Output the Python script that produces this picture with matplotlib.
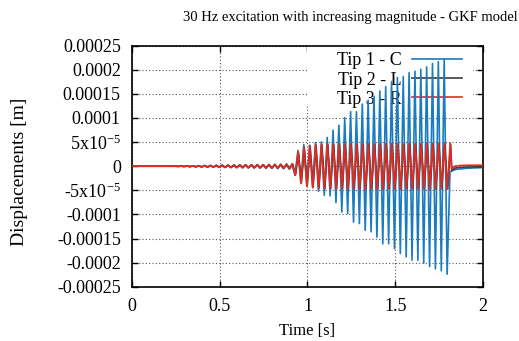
#%% Imports
import numpy as np
import matplotlib
matplotlib.use('Agg')
import matplotlib.pyplot as plt
from matplotlib.patches import Rectangle

#%% Data (peak values of the 30 Hz response)

freq = 30.0                      # excitation frequency, Hz (peaks every 1/60 s)

# small oscillation phase, alternating bottom/top peaks (units of 1e-6 m)
blue_pre_bot = [-0.5, -0.8, -1.1, -1.4, -1.8, -2.1, -2.4, -2.6, -2.8, -3.0,
                -3.2, -3.4, -3.6, -3.8, -4.0, -4.2, -4.5, -4.8, -5.2, -6.0]
blue_pre_top = [0.3, 0.5, 0.8, 1.0, 1.3, 1.5, 1.8, 2.0, 2.1, 2.3,
                2.5, 2.6, 2.8, 3.0, 3.1, 3.3, 3.5, 3.8, 4.0, 4.6]
red_pre_bot = [-0.3, -0.6, -0.9, -1.2, -1.4, -1.7, -1.9, -2.1, -2.3, -2.5,
               -2.7, -2.9, -3.0, -3.2, -3.4, -3.6, -3.8, -4.1, -4.4, -5.0]
red_pre_top = [0.3, 0.5, 0.8, 1.0, 1.3, 1.6, 1.8, 2.0, 2.2, 2.4,
               2.6, 2.7, 2.9, 3.1, 3.2, 3.4, 3.6, 3.9, 4.2, 4.8]

# large oscillation phase (units of 1e-5 m)
blue_bot = [-1.9, -3.46, -3.74, -4.29, -5.19, -6.02, -6.16, -7.55, -9.49, -9.83,
            -11.6, -11.9, -13.3, -13.6, -14.7, -16.1, -16.1, -17.1, -18.1, -18.8,
            -19.5, -19.5, -20.1, -20.8, -21.3, -21.7, -22.4]
blue_top = [3.3, 4.5, 4.36, 4.9, 5.05, 5.96, 7.48, 8.5, 10.1, 11.3,
            11.3, 12.9, 13.7, 14.5, 15.6, 16.5, 17.5, 18.4, 18.6, 19.4,
            19.7, 20.1, 20.6, 21.3, 21.7, 22.2]
red_bot = [-1.9, -3.6, -4.2, -4.5, -4.6, -4.7, -4.7, -4.8, -4.7, -4.8,
           -4.7, -4.8, -4.8, -4.7, -4.8, -4.8, -4.7, -4.8, -4.8, -4.7,
           -4.8, -4.8, -4.7, -4.8, -4.8, -4.7, -4.8]
red_top = [3.0, 4.0, 4.3, 4.5, 4.6, 4.7, 4.7, 4.6, 4.7, 4.7,
           4.6, 4.7, 4.7, 4.7, 4.6, 4.7, 4.7, 4.7, 4.6, 4.7,
           4.7, 4.7, 4.7, 4.7, 4.8, 4.8, 4.8]
black_bot = [-1.8, -3.4, -4.0, -4.3, -4.5, -4.6, -4.6, -4.6, -4.6, -4.7,
             -4.6, -4.6, -4.7, -4.6, -4.6, -4.7, -4.6, -4.6, -4.7, -4.6,
             -4.6, -4.7, -4.6, -4.6, -4.7, -4.6, -4.7]
black_top = [2.8, 3.8, 4.1, 4.3, 4.4, 4.5, 4.5, 4.5, 4.5, 4.5,
             4.5, 4.5, 4.6, 4.5, 4.5, 4.5, 4.6, 4.5, 4.5, 4.5,
             4.6, 4.5, 4.5, 4.6, 4.6, 4.6, 4.6]

# decay after the excitation stops
blue_tail_t = [1.812, 1.83, 1.85, 1.9, 1.95, 2.0]
blue_tail = [-1.2e-5, -8.5e-6, -6.5e-6, -4.5e-6, -3.5e-6, -3.0e-6]
red_tail_t = [1.822, 1.84, 1.87, 1.92, 2.0]
red_tail = [-6e-6, 0.0, 1.5e-6, 2e-6, 2e-6]
black_tail_t = [1.822, 1.84, 1.87, 1.92, 2.0]
black_tail = [-9e-6, -4e-6, -2.5e-6, -1.5e-6, -1.5e-6]

labels = ['Tip 1 - C', 'Tip 2 - L', 'Tip 3 - R']
colors = ['#1a7cbe', '#3c3c3c', '#e42a1e']

yticks = [-0.00025, -0.0002, -0.00015, -0.0001, -5e-5, 0, 5e-5, 0.0001, 0.00015, 0.0002, 0.00025]
ytick_labels = ['-0.00025', '-0.0002', '-0.00015', '-0.0001', r'-5x10$^{-5}$', '0',
                r'5x10$^{-5}$', '0.0001', '0.00015', '0.0002', '0.00025']
xticks = [0, 0.5, 1, 1.5, 2]
xtick_labels = ['0', '0.5', '1', '1.5', '2']

#%% Helpers

def interleave(bottoms, tops, scale):
    """Alternate bottom/top peaks into one zigzag sequence."""
    n = len(bottoms) + len(tops)
    vals = np.empty(n)
    vals[0::2] = bottoms
    vals[1::2] = tops
    return vals * scale

def build_series(pre_bot, pre_top, big_bot, big_top, t_big0, tail_t, tail_v):
    pre = interleave(pre_bot, pre_top, 1e-6)
    big = interleave(big_bot, big_top, 1e-5)
    t_pre0 = t_big0 - len(pre) / (2 * freq)
    t_pre = t_pre0 + np.arange(len(pre)) / (2 * freq)
    t_b = t_big0 + np.arange(len(big)) / (2 * freq)
    t = np.concatenate([[0.0, t_pre0 - 0.02], t_pre, t_b, tail_t])
    v = np.concatenate([[0.0, 0.0], pre, big, tail_v])
    return t, v

t_blue, v_blue = build_series(blue_pre_bot, blue_pre_top, blue_bot, blue_top, 0.929, blue_tail_t, blue_tail)
t_black, v_black = build_series(red_pre_bot, red_pre_top, black_bot, black_top, 0.932, black_tail_t, black_tail)
t_red, v_red = build_series(red_pre_bot, red_pre_top, red_bot, red_top, 0.930, red_tail_t, red_tail)

#%% Plot

plt.rcParams['font.family'] = ['Liberation Serif', 'DejaVu Serif']
plt.rcParams['mathtext.fontset'] = 'custom'
plt.rcParams['mathtext.rm'] = 'Liberation Serif'
plt.rcParams['mathtext.it'] = 'Liberation Serif'
plt.rcParams['font.size'] = 13

fig = plt.figure(figsize=(5.19, 3.41), dpi=100)
ax = fig.add_axes([0.2543, 0.1592, 0.6763, 0.7068])

ax.plot(t_blue, v_blue, color=colors[0], lw=1.2, label=labels[0], zorder=3)
ax.plot(t_black, v_black, color=colors[1], lw=1.2, label=labels[1], zorder=4)
ax.plot(t_red, v_red, color=colors[2], lw=1.2, label=labels[2], zorder=5)

ax.set_xlim(0, 2)
ax.set_ylim(-0.00025, 0.00025)
ax.set_xticks(xticks)
ax.set_xticklabels(xtick_labels)
ax.set_yticks(yticks)
ax.set_yticklabels(ytick_labels)
ax.tick_params(direction='in', top=True, right=True, length=4, width=1, labelsize=13)
ax.tick_params(axis='x', pad=8)
ax.tick_params(axis='y', pad=8)
ax.grid(True, color='#555555', ls=(0, (1, 2)), lw=0.8)
ax.set_axisbelow(True)
for sp in ax.spines.values():
    sp.set_linewidth(1.2)

# opaque key area (grid hidden behind it, data drawn over it)
ax.add_patch(Rectangle((0.4986, 0.754), 0.4729, 0.246, transform=ax.transAxes,
                       facecolor='white', edgecolor='none', zorder=1))
leg = ax.legend(loc='upper right', bbox_to_anchor=(0.94, 0.972), frameon=False,
                markerfirst=False, borderpad=0, borderaxespad=0, labelspacing=0.12,
                handlelength=2.75, handletextpad=0.6, fontsize=13)
leg.set_zorder(2)

ax.set_xlabel('Time [s]', fontsize=12, labelpad=6)
fig.text(20 / 519, 1 - 172 / 341, 'Displacements [m]', rotation=90,
         ha='center', va='center', fontsize=14)
fig.text(350 / 519, 1 - 17.5 / 341, '30 Hz excitation with increasing magnitude - GKF model',
         ha='center', va='center', fontsize=10.5)

plt.savefig('out.png', dpi=100)
